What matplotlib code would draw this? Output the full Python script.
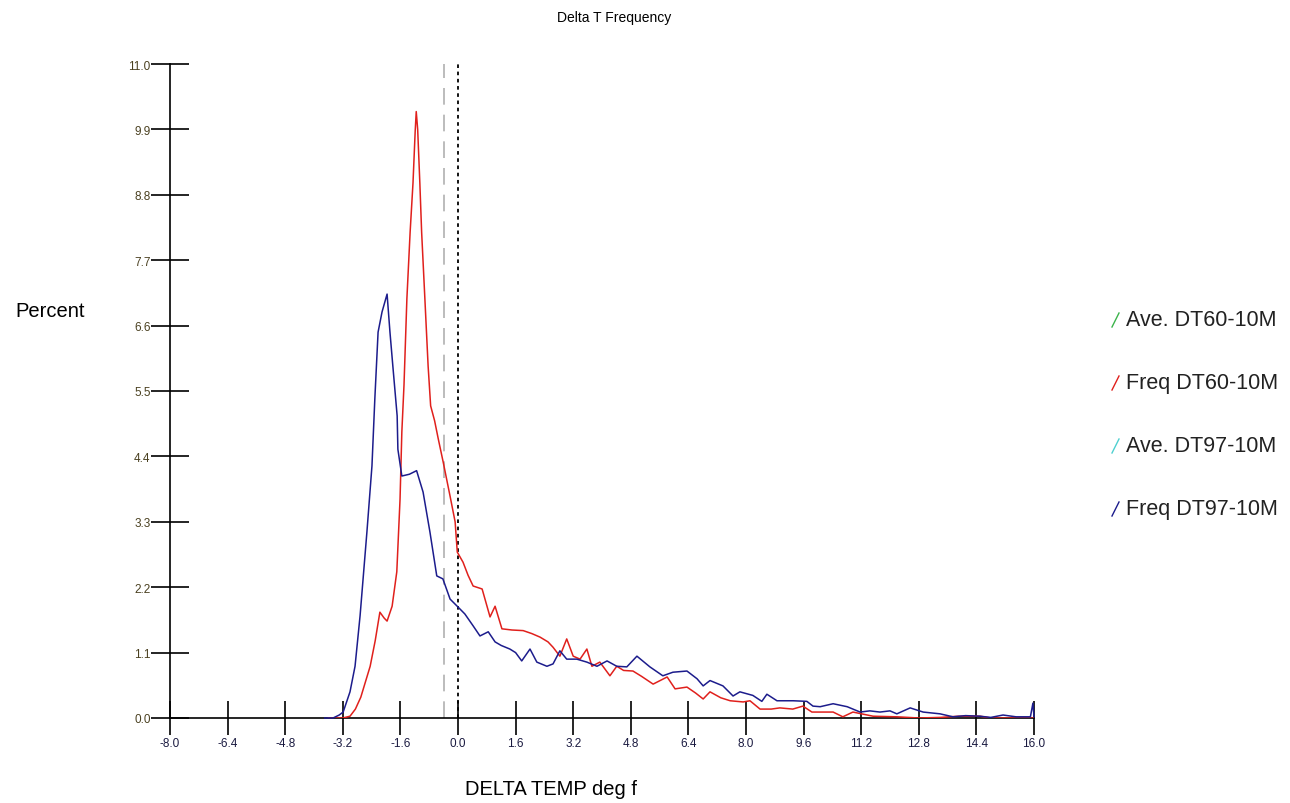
import numpy as np
import matplotlib
matplotlib.use("Agg")
from matplotlib import pyplot as plt
from matplotlib.lines import Line2D

# traced points, Freq DT60-10M (red)
red_x = [-3.6, -3.2, -3.0, -2.85, -2.7, -2.55, -2.44, -2.3, -2.17, -2.05, -1.97, -1.83, -1.70,
         -1.61, -1.56, -1.50, -1.42, -1.33, -1.25, -1.19, -1.16, -1.12, -1.06, -1.01, -0.92,
         -0.83, -0.76, -0.65, -0.55, -0.41, -0.22, -0.08, -0.02, 0.14, 0.28, 0.42, 0.67, 0.89,
         1.03, 1.22, 1.5, 1.81, 2.05, 2.28, 2.5, 2.64, 2.83, 3.02, 3.2, 3.39, 3.58, 3.72, 3.94,
         4.22, 4.41, 4.6, 4.86, 5.1, 5.42, 5.81, 6.03, 6.36, 6.6, 6.81, 7.0, 7.3, 7.56, 7.92,
         8.11, 8.39, 8.7, 8.94, 9.3, 9.58, 9.83, 10.42, 10.69, 10.97, 11.53, 12.2, 12.8, 13.4,
         13.9, 14.5, 14.8, 16.0]
red_y = [0.0, 0.0, 0.03, 0.15, 0.35, 0.65, 0.87, 1.3, 1.78, 1.68, 1.63, 1.88, 2.46,
         3.68, 4.81, 5.6, 7.05, 8.17, 9.0, 9.86, 10.2, 9.9, 9.0, 8.17, 7.05,
         5.92, 5.25, 5.0, 4.7, 4.3, 3.73, 3.3, 2.79, 2.62, 2.4, 2.22, 2.17, 1.70,
         1.88, 1.50, 1.48, 1.47, 1.42, 1.36, 1.28, 1.19, 1.04, 1.33, 1.04, 0.99, 1.16, 0.87, 0.94,
         0.71, 0.87, 0.80, 0.79, 0.70, 0.57, 0.69, 0.49, 0.52, 0.42, 0.32, 0.44, 0.34, 0.29, 0.27,
         0.29, 0.15, 0.15, 0.17, 0.15, 0.20, 0.10, 0.10, 0.02, 0.10, 0.03, 0.02, 0.0, 0.01,
         0.03, 0.03, 0.0, 0.0]

# traced points, Freq DT97-10M (blue)
blue_x = [-3.7, -3.47, -3.3, -3.19, -3.0, -2.86, -2.72, -2.53, -2.39, -2.31, -2.22, -2.11, -1.97,
          -1.89, -1.81, -1.69, -1.67, -1.56, -1.35, -1.15, -0.97, -0.78, -0.59, -0.42, -0.22,
          0.06, 0.19, 0.42, 0.61, 0.84, 1.03, 1.2, 1.44, 1.6, 1.77, 2.0, 2.19, 2.47, 2.64, 2.83,
          3.02, 3.3, 3.58, 3.86, 4.14, 4.41, 4.69, 4.97, 5.33, 5.69, 5.97, 6.36, 6.64, 6.81, 7.0,
          7.36, 7.64, 7.83, 8.19, 8.44, 8.58, 8.86, 9.31, 9.69, 9.86, 10.06, 10.42, 10.81, 11.17,
          11.44, 11.72, 12.0, 12.19, 12.56, 12.92, 13.39, 13.75, 14.1, 14.5, 14.8, 15.14, 15.5,
          15.9, 15.97, 16.0]
blue_y = [0.0, 0.0, 0.05, 0.1, 0.44, 0.87, 1.72, 3.13, 4.24, 5.37, 6.49, 6.83, 7.13,
          6.49, 5.92, 5.08, 4.52, 4.07, 4.1, 4.16, 3.8, 3.13, 2.39, 2.34, 2.0,
          1.83, 1.75, 1.55, 1.38, 1.45, 1.28, 1.22, 1.16, 1.1, 0.96, 1.16, 0.94, 0.87, 0.91, 1.13,
          0.99, 0.99, 0.94, 0.87, 0.96, 0.87, 0.86, 1.04, 0.86, 0.71, 0.77, 0.79, 0.66, 0.54, 0.63,
          0.54, 0.37, 0.44, 0.38, 0.28, 0.40, 0.29, 0.29, 0.28, 0.2, 0.19, 0.24, 0.19, 0.10,
          0.12, 0.10, 0.12, 0.07, 0.17, 0.10, 0.07, 0.02, 0.04, 0.03, 0.01, 0.05, 0.02,
          0.02, 0.25, 0.02]

ave_dt60 = -0.4
ave_dt97 = 0.0

legend_labels = ["Ave. DT60-10M", "Freq DT60-10M", "Ave. DT97-10M", "Freq DT97-10M"]
legend_colors = ["#3cb44b", "#e0201c", "#4fd0d0", "#1c1c8c"]

x_ticks = [-8.0, -6.4, -4.8, -3.2, -1.6, 0.0, 1.6, 3.2, 4.8, 6.4, 8.0, 9.6, 11.2, 12.8, 14.4, 16.0]
y_ticks = [0.0, 1.1, 2.2, 3.3, 4.4, 5.5, 6.6, 7.7, 8.8, 9.9, 11.0]

plt.rcParams['font.family'] = ['Liberation Sans', 'DejaVu Sans']

fig = plt.figure(figsize=(12.9, 8.04), dpi=100)
ax = fig.add_axes([170/1290, 85/804, 864/1290, 654/804])

ax.plot(red_x, red_y, color=legend_colors[1], lw=1.1, zorder=3)
ax.plot(blue_x, blue_y, color=legend_colors[3], lw=1.1, zorder=4, clip_on=False)

ax.axvline(ave_dt60, color='#b0b0b0', lw=1.2, dashes=(10, 6), zorder=2)
ax.axvline(ave_dt97, color='black', lw=1.3, dashes=(2, 2), zorder=2)

ax.set_xlim(-8, 16)
ax.set_ylim(0, 11)
for s in ['top', 'right']:
    ax.spines[s].set_visible(False)
for s in ['left', 'bottom']:
    ax.spines[s].set_linewidth(1.2)

ax.set_xticks(x_ticks)
ax.set_xticklabels(["%.1f" % v for v in x_ticks], fontsize=8.5, color='#1a1a40')
ax.set_yticks(y_ticks)
ax.set_yticklabels(["%.1f" % v for v in y_ticks], fontsize=8.5, color='#4a4020')
ax.tick_params(axis='x', direction='inout', length=25, width=1.2, pad=1)
ax.tick_params(axis='y', direction='inout', length=28, width=1.2, pad=0)

fig.text(614/1290, 1 - 18/804, "Delta T Frequency", ha='center', va='center', fontsize=10)
fig.text(15/1290, 1 - 312/804, "Percent", ha='left', va='center', fontsize=14.5)
fig.text(551/1290, 1 - 790/804, "DELTA TEMP deg f", ha='center', va='center', fontsize=14.5)

leg_y = [321, 384, 447, 510]
for lab, col, yy in zip(legend_labels, legend_colors, leg_y):
    fy = 1 - yy/804
    fig.add_artist(Line2D([1112/1290, 1119/1290], [fy - 7/804, fy + 7/804],
                          transform=fig.transFigure, color=col, lw=1.0))
    fig.text(1126/1290, fy, lab, ha='left', va='center', fontsize=15.5, color='#222222')

fig.savefig("out.png", dpi=100)
